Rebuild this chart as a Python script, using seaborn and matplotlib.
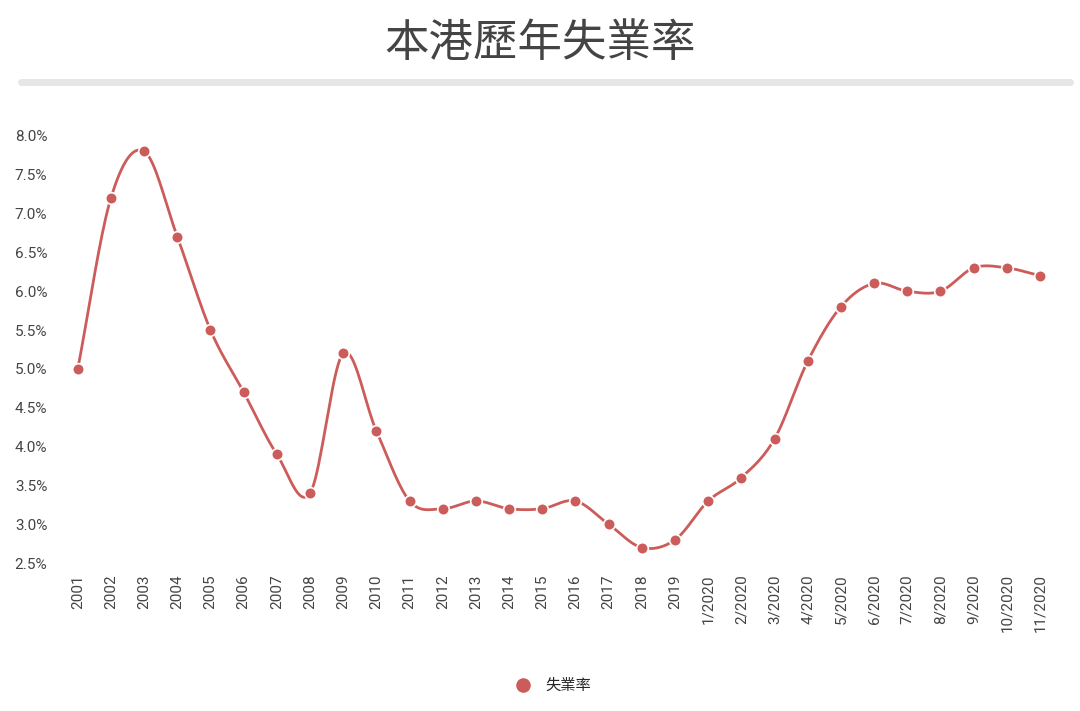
import numpy as np
import matplotlib
matplotlib.use("Agg")
import matplotlib.pyplot as plt
import seaborn as sns

periods = ["2001", "2002", "2003", "2004", "2005", "2006", "2007", "2008", "2009", "2010",
           "2011", "2012", "2013", "2014", "2015", "2016", "2017", "2018", "2019",
           "1/2020", "2/2020", "3/2020", "4/2020", "5/2020", "6/2020", "7/2020",
           "8/2020", "9/2020", "10/2020", "11/2020"]
rates = [5.0, 7.2, 7.8, 6.7, 5.5, 4.7, 3.9, 3.4, 5.2, 4.2,
         3.3, 3.2, 3.3, 3.2, 3.2, 3.3, 3.0, 2.7, 2.8,
         3.3, 3.6, 4.1, 5.1, 5.8, 6.1, 6.0, 6.0, 6.3, 6.3, 6.2]
yticks = [2.5, 3.0, 3.5, 4.0, 4.5, 5.0, 5.5, 6.0, 6.5, 7.0, 7.5, 8.0]

sns.set_style("white")
plt.rcParams['font.family'] = ['Roboto', 'Noto Sans CJK TC', 'DejaVu Sans']
red = "#cc5c5a"

fig = plt.figure(figsize=(10.8, 7.11), dpi=100)
fig.text(0.5, 0.94, "本港歷年失業率", ha="center", va="center", fontsize=32, color="#444444",
         family=['Noto Sans CJK TC'])
fig.add_artist(plt.Line2D([0.019, 0.991], [0.884, 0.884], color="#e6e6e6", lw=5))

ax = fig.add_axes([0.072, 0.208, 0.891, 0.601])
x = np.arange(len(rates))
y = np.array(rates)

# smooth curve (cubic Hermite) through the data points, for drawing only
m = np.gradient(y, x)
xs, ys = [], []
for i in range(len(x) - 1):
    t = np.linspace(0, 1, 20)
    h00 = 2*t**3 - 3*t**2 + 1; h10 = t**3 - 2*t**2 + t
    h01 = -2*t**3 + 3*t**2; h11 = t**3 - t**2
    xs.extend(x[i] + t)
    ys.extend(h00*y[i] + h10*m[i] + h01*y[i+1] + h11*m[i+1])
sns.lineplot(x=xs, y=ys, ax=ax, color=red, lw=2, sort=False, clip_on=False)
sns.scatterplot(x=x, y=y, ax=ax, color=red, s=70, edgecolor="white", linewidth=1.2,
                zorder=3, clip_on=False, label="失業率")

ax.set_xlim(0, len(x) - 1)
ax.set_ylim(2.5, 8.0)
ax.set_yticks(yticks)
ax.set_yticklabels([f"{v:.1f}%" for v in yticks], fontsize=11, color="#444444")
ax.set_xticks(x)
ax.set_xticklabels(periods, rotation=90, fontsize=11, color="#444444")
ax.tick_params(axis="y", pad=22, length=0)
ax.tick_params(axis="x", pad=8, length=0)
for s in ax.spines.values():
    s.set_visible(False)
ax.legend(loc="center", bbox_to_anchor=(0.49, -0.286), frameon=False, fontsize=11,
          markerscale=1.4, handletextpad=0.5)
fig.savefig("out.png", dpi=100)
